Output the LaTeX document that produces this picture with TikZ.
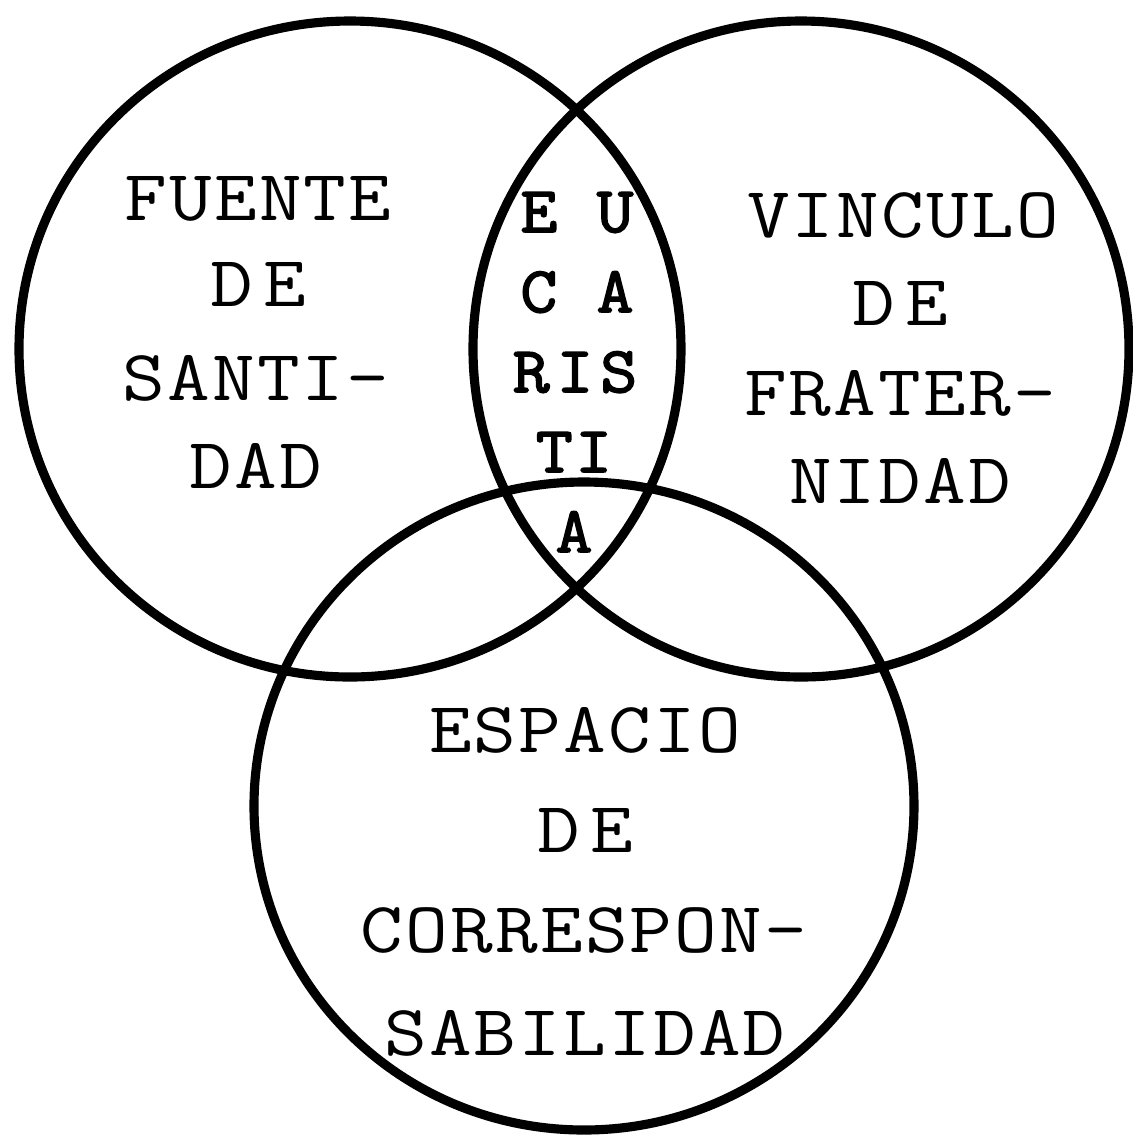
\documentclass[tikz,border=0pt]{standalone}
\usepackage{fontspec}
\setmonofont{Latin Modern Mono}
\usetikzlibrary{positioning}

\tikzset{
  ring/.style={line width=2.6pt},
  label/.style={font=\ttfamily\fontsize{20.5}{25}\selectfont\addfontfeature{FakeStretch=1.15,LetterSpace=3}, align=center, inner sep=0pt, anchor=base},
  core/.style={font=\ttfamily\fontsize{18.5}{22}\selectfont\addfontfeature{FakeBold=2.5,FakeStretch=1.1,LetterSpace=4}, align=center, inner sep=0pt, anchor=base}
}

\begin{document}
\begin{tikzpicture}[x=0.1mm,y=-0.1mm]
          \useasboundingbox (0,0) rectangle (1133,1135);
          % the three circles
          \draw[ring] (350,349) ellipse (331 and 328);
          \draw[ring] (801,349) ellipse (328 and 328);
          \draw[ring] (584,806) ellipse (330 and 324);
          % left
          \node[label] (fuente) at (258,220){FUENTE};
          \node[label] (de1) at (258,306){D\kern3pt E};
          \node[label] (santi) at (256,400){SANTI-};
          \node[label] (dad) at (256,488){DAD};
          % right
          \node[label] (vinculo) at (903,237){VINCULO};
          \node[label] (de2) at (900,325){D\kern3pt E};
          \node[label] (frater) at (900,415){FRATER-};
          \node[label] (nidad) at (900,503){NIDAD};
          % bottom
          \node[label] (espacio) at (585,752){ESPACIO};
          \node[label] (de3) at (585,852){D\kern3pt E};
          \node[label] (corres) at (584,952){CORRESPON-};
          \node[label] (sabil) at (585,1055){SABILIDAD};
          % middle
          \node[core] (eu) at (577,232){E U};
          \node[core] (ca) at (577,312){C A};
          \node[core] (ris) at (575,392){R\kern2pt I\kern2pt S};
          \node[core] (ti) at (574,472){TI};
          \node[core] (a) at (574,552){A};
        \end{tikzpicture}
\end{document}
